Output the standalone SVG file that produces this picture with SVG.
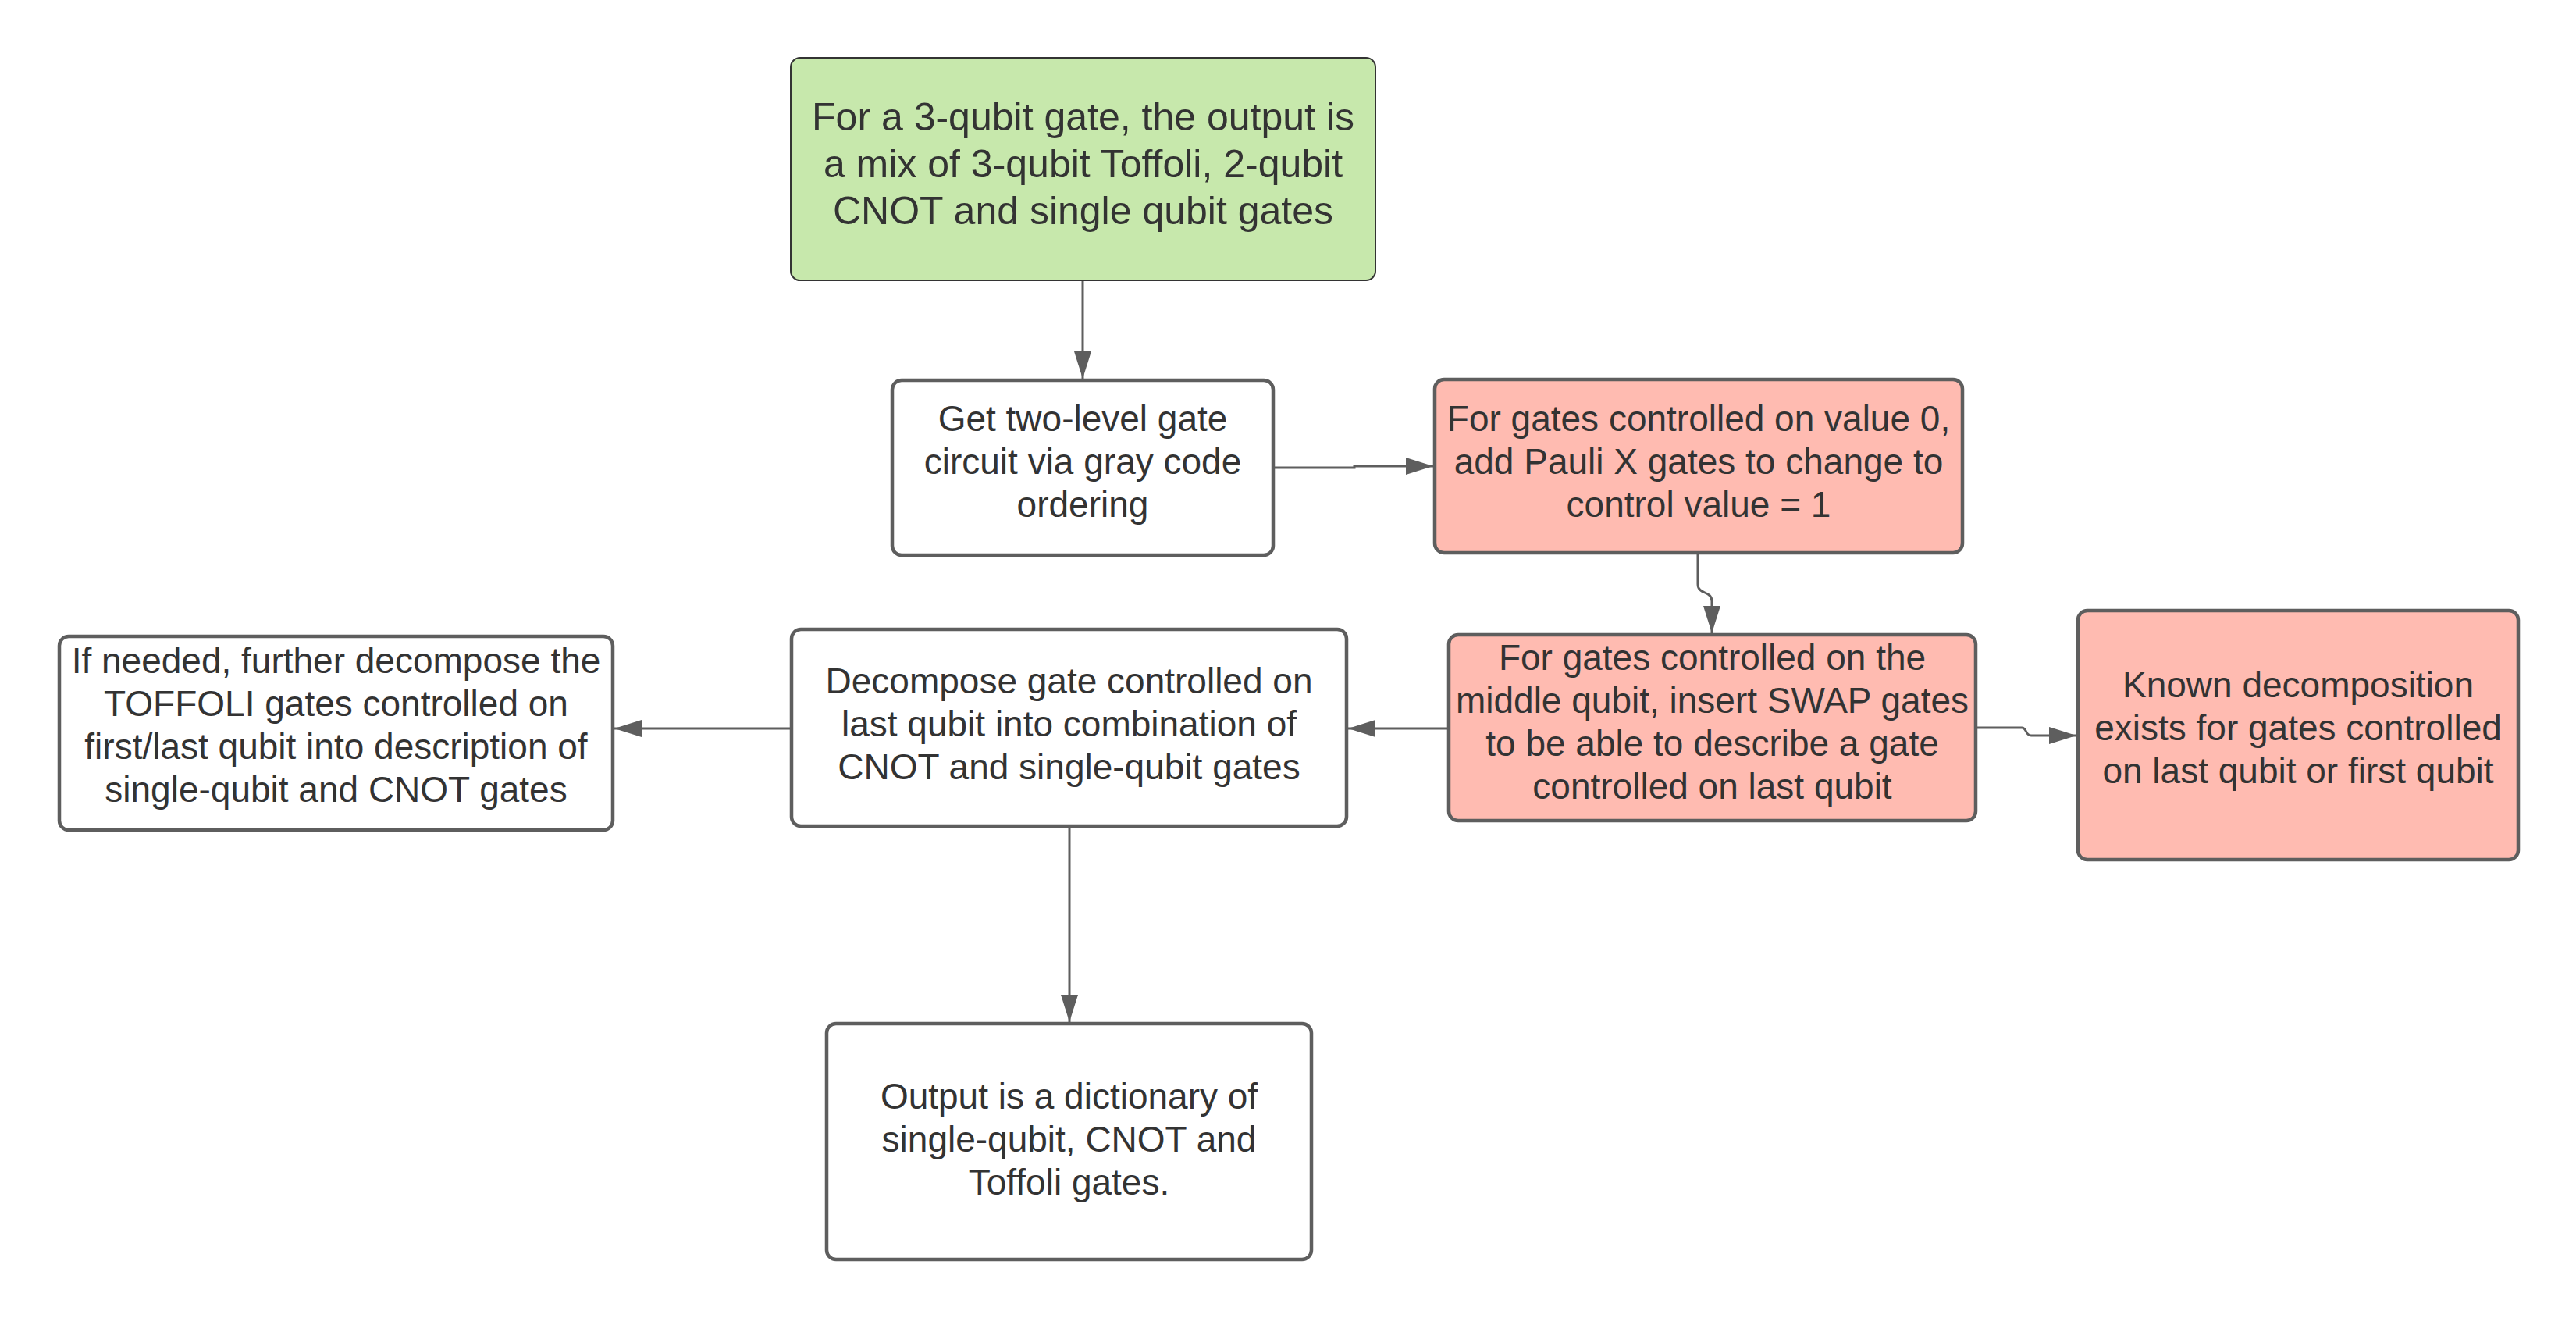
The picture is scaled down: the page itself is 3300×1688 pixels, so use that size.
<svg xmlns="http://www.w3.org/2000/svg" width="3300" height="1688" viewBox="0 0 3300 1688">
<defs>
<style>
.box{fill:#ffffff;stroke:#5e5e5e;stroke-width:4.5}
.red{fill:#ffbbb1;stroke:#5e5e5e;stroke-width:4.5}
.green{fill:#c7e8ac;stroke:#333333;stroke-width:2}
.t{font-family:"Liberation Sans",Arial,sans-serif;font-size:46px;fill:#333333;text-anchor:middle}
.tg{font-size:50px}
.c{fill:none;stroke:#5e5e5e;stroke-width:3}
</style>
<marker id="ah" viewBox="0 0 35 22" markerWidth="35" markerHeight="22" refX="35" refY="11" orient="auto" markerUnits="userSpaceOnUse">
<path d="M0,0 L35,11 L0,22 Z" fill="#5e5e5e"/>
</marker>
</defs>
<rect width="3300" height="1688" fill="#ffffff"/>
<g id="connectors">
<path class="c" d="M1387,360 V485" marker-end="url(#ah)"/>
<path class="c" d="M1633,599 H1735 V597 H1836" marker-end="url(#ah)"/>
<path class="c" d="M2175,710 V748 C2175,762 2193,756 2193,770 V811" marker-end="url(#ah)"/>
<path class="c" d="M1854,933 H1727" marker-end="url(#ah)"/>
<path class="c" d="M2533,932 H2590 C2597,932 2594,942 2602,942 H2660" marker-end="url(#ah)"/>
<path class="c" d="M1012,933 H787" marker-end="url(#ah)"/>
<path class="c" d="M1370,1060 V1309" marker-end="url(#ah)"/>
</g>
<g id="start">
<rect class="green" x="1013" y="74" width="749" height="285" rx="12"/>
<text class="t tg" x="1387.5" y="167">For a 3-qubit gate, the output is</text>
<text class="t tg" x="1387.5" y="227">a mix of 3-qubit Toffoli, 2-qubit</text>
<text class="t tg" x="1387.5" y="287">CNOT and single qubit gates</text>
</g>
<g id="twolevel">
<rect class="box" x="1143" y="487" width="488" height="224" rx="12"/>
<text class="t" x="1387" y="552">Get two-level gate</text>
<text class="t" x="1387" y="607">circuit via gray code</text>
<text class="t" x="1387" y="662">ordering</text>
</g>
<g id="paulix">
<rect class="red" x="1838" y="486" width="676" height="222" rx="12"/>
<text class="t" x="2176" y="552">For gates controlled on value 0,</text>
<text class="t" x="2176" y="607">add Pauli X gates to change to</text>
<text class="t" x="2176" y="662">control value = 1</text>
</g>
<g id="swap">
<rect class="red" x="1856" y="813" width="675" height="238" rx="12"/>
<text class="t" x="2193.5" y="858">For gates controlled on the</text>
<text class="t" x="2193.5" y="913">middle qubit, insert SWAP gates</text>
<text class="t" x="2193.5" y="968">to be able to describe a gate</text>
<text class="t" x="2193.5" y="1023">controlled on last qubit</text>
</g>
<g id="known">
<rect class="red" x="2662" y="782" width="564" height="319" rx="12"/>
<text class="t" x="2944" y="893">Known decomposition</text>
<text class="t" x="2944" y="948">exists for gates controlled</text>
<text class="t" x="2944" y="1003">on last qubit or first qubit</text>
</g>
<g id="decompose">
<rect class="box" x="1014" y="806" width="711" height="252" rx="12"/>
<text class="t" x="1369.5" y="888">Decompose gate controlled on</text>
<text class="t" x="1369.5" y="943">last qubit into combination of</text>
<text class="t" x="1369.5" y="998">CNOT and single-qubit gates</text>
</g>
<g id="toffoli">
<rect class="box" x="76" y="815" width="709" height="248" rx="12"/>
<text class="t" x="430.5" y="862">If needed, further decompose the</text>
<text class="t" x="430.5" y="917">TOFFOLI gates controlled on</text>
<text class="t" x="430.5" y="972">first/last qubit into description of</text>
<text class="t" x="430.5" y="1027">single-qubit and CNOT gates</text>
</g>
<g id="output">
<rect class="box" x="1059" y="1311" width="621" height="302" rx="12"/>
<text class="t" x="1369.5" y="1420">Output is a dictionary of</text>
<text class="t" x="1369.5" y="1475">single-qubit, CNOT and</text>
<text class="t" x="1369.5" y="1530">Toffoli gates.</text>
</g>
</svg>
